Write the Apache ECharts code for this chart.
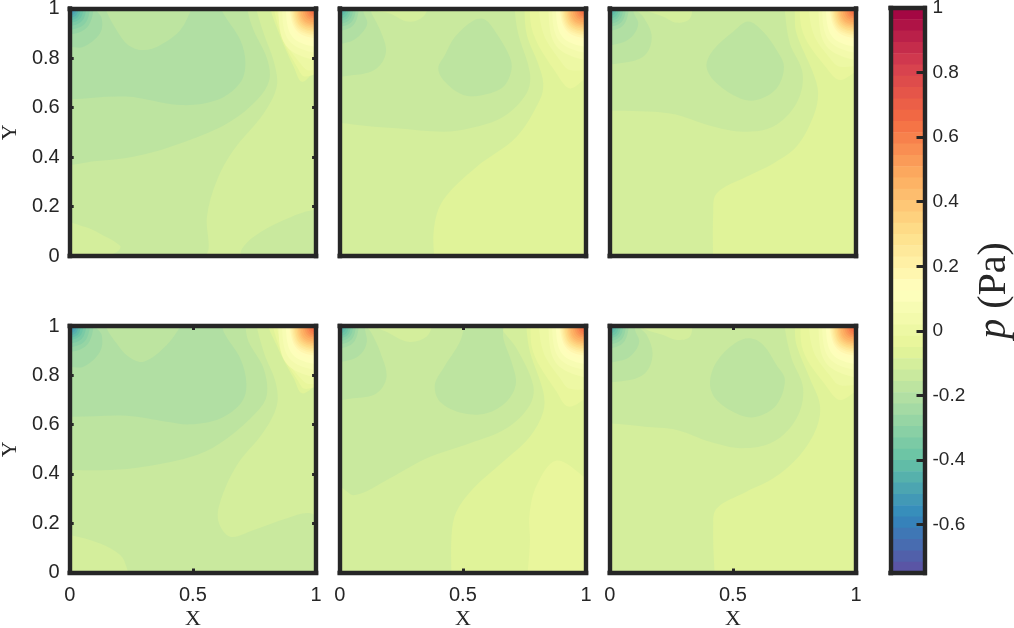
<!DOCTYPE html>
<html>
<head>
<meta charset="utf-8">
<style>
  html, body { margin: 0; padding: 0; background: #fff; }
  #chart { width: 1014px; height: 628px; }
</style>
<script src="https://cdn.jsdelivr.net/npm/echarts@6/dist/echarts.min.js"></script>
</head>
<body>
<div id="chart"></div>
<script>
// tick labels
var xTicks = [0, 0.5, 1];
var yTicks = [0, 0.2, 0.4, 0.6, 0.8, 1];
var colorbarTicks = [-0.6, -0.4, -0.2, 0, 0.2, 0.4, 0.6, 0.8, 1];

// centre value of every colorbar band
var colorbarLevels = [0.9825, 0.9475, 0.9125, 0.8775, 0.8425, 0.8075, 0.7725, 0.7375, 0.7025, 0.6675,
  0.6325, 0.5975, 0.5625, 0.5275, 0.4925, 0.4575, 0.4225, 0.3875, 0.3525, 0.3175,
  0.2825, 0.2475, 0.2125, 0.1775, 0.1425, 0.1075, 0.0725, 0.0375, 0.0025, -0.0325,
  -0.0675, -0.1025, -0.1375, -0.1725, -0.2075, -0.2425, -0.2775, -0.3125, -0.3475, -0.3825,
  -0.4175, -0.4525, -0.4875, -0.5225, -0.5575, -0.5925, -0.6275, -0.6625, -0.6975, -0.7325];

// rings round the top corners: level, X on the top edge, mid point X, mid point Y, Y on the side edge
var hotCore = [
  [0.0375, .845, .878, .85, .785],
  [0.0725, .86, .89, .87, .815],
  [0.1075, .875, .904, .885, .84],
  [0.1425, .885, .917, .899, .86],
  [0.1775, .89, .921, .91, .875],
  [0.2125, .895, .924, .917, .885],
  [0.2475, .90, .928, .922, .892],
  [0.2825, .905, .932, .928, .90],
  [0.3175, .91, .935, .932, .906],
  [0.3525, .916, .94, .937, .913],
  [0.3875, .922, .944, .942, .92],
  [0.4225, .928, .948, .947, .927],
  [0.4575, .934, .952, .952, .934],
  [0.4925, .942, .958, .958, .942],
  [0.5275, .95, .964, .964, .95],
  [0.5625, .958, .97, .97, .958],
  [0.5975, .966, .976, .975, .965],
  [0.6325, .974, .981, .981, .973],
  [0.6675, .984, .988, .987, .982]
];
var coldWide = [
  [-0.2775, .10, .07, .923, .89],
  [-0.3125, .085, .06, .937, .91],
  [-0.3475, .07, .049, .948, .925],
  [-0.3825, .058, .041, .958, .94],
  [-0.4175, .047, .033, .965, .95],
  [-0.4525, .037, .026, .972, .96],
  [-0.4875, .028, .02, .979, .97],
  [-0.5225, .02, .014, .985, .979],
  [-0.5575, .012, .008, .991, .987]
];
var coldNarrow = [
  [-0.2425, .08, .056, .933, .905],
  [-0.2775, .068, .048, .945, .922],
  [-0.3125, .057, .04, .955, .935],
  [-0.3475, .047, .033, .963, .947],
  [-0.3825, .038, .027, .971, .958],
  [-0.4175, .029, .02, .978, .968],
  [-0.4525, .02, .014, .985, .978]
];

// contour regions: [pressure level, outline as [X, Y] pairs], painted in order
var panel1 = [
  [-0.1375, [[-.3,-.3],[1.3,-.3],[1.3,1.3],[-.3,1.3]]],
  [-0.1025, [[.75,1.1],[.75,1.03],[.787,.90],[.83,.78],[.84,.684],[.787,.576],[.665,.428],[.598,.307],[.557,.159],[.564,.031],[.546,-.02],[.546,-.2],[1.2,-.2],[1.2,1.2],[.75,1.2]]],
  [-0.1375, [[.70,.03],[.747,.078],[.869,.145],[.99,.186],[1.05,.17],[1.05,-.05],[.72,-.05],[.695,-.0]]],
  [-0.1025, [[-.05,.135],[.06,.118],[.123,.09],[.205,.04],[.19,.015],[.1,-.01],[-.05,-.05]]],
  [-0.1725, [[-.05,.39],[.11,.384],[.30,.41],[.517,.48],[.652,.543],[.76,.63],[.81,.711],[.80,.80],[.746,.913],[.72,1.0],[.72,1.05],[-.05,1.05]]],
  [-0.2075, [[-.05,1.05],[-.05,.63],[0,.633],[.23,.644],[.449,.61],[.598,.63],[.692,.70],[.713,.78],[.692,.873],[.618,.99],[.60,1.05],[.53,1.05],[.449,.913],[.367,.852],[.30,.832],[.238,.852],[.19,.913],[.15,.987],[.13,1.05]]],
  [-0.2425, [[-.05,.845],[0,.845],[.056,.845],[.123,.90],[.13,.96],[.103,1.0],[.09,1.05],[-.05,1.05]]],
  [-0.0675, [[.808,1.2],[.808,1.03],[.855,.886],[.909,.765],[.943,.704],[1.0,.752],[1.05,.78],[1.2,.8],[1.2,1.2]]],
  [-0.0325, [[.82,1.2],[.82,1.05],[.862,.88],[.925,.76],[.955,.725],[1.05,.755],[1.2,.775],[1.2,1.2]]],
  [0.0025, [[.835,1.2],[.835,1.05],[.87,.875],[.935,.78],[.97,.75],[1.05,.77],[1.2,.79],[1.2,1.2]]]
];
var panel2 = [
  [-0.1025, [[-.3,-.3],[1.3,-.3],[1.3,1.3],[-.3,1.3]]],
  [-0.0675, [[.75,1.2],[.75,1.05],[.758,.90],[.805,.778],[.826,.698],[.812,.63],[.718,.482],[.555,.36],[.42,.226],[.382,.105],[.386,-.05],[.386,-.2],[1.2,-.2],[1.2,1.2]]],
  [-0.1375, [[-.05,.535],[0,.537],[.109,.525],[.231,.516],[.42,.502],[.528,.516],[.664,.563],[.758,.657],[.772,.738],[.724,.90],[.711,.987],[.71,1.05],[.393,1.05],[.339,.967],[.278,.947],[.204,.98],[.14,.995],[.10,1.05],[-.05,1.05]]],
  [-0.1725, [[.589,.956],[.636,.90],[.69,.805],[.697,.752],[.664,.684],[.582,.651],[.501,.651],[.427,.704],[.40,.758],[.427,.812],[.468,.886],[.542,.951]]],
  [-0.1725, [[-.05,.74],[.055,.731],[.15,.758],[.188,.826],[.164,.913],[.13,.98],[.11,1.03],[-.05,1.05]]],
  [-0.2075, [[-.05,.866],[.042,.866],[.089,.90],[.112,.94],[.096,.987],[.09,1.03],[-.05,1.05]]],
  [-0.0325, [[.77,1.2],[.77,1.05],[.785,.90],[.88,.737],[.934,.677],[1.0,.72],[1.05,.75],[1.2,.77],[1.2,1.2]]],
  [0.0025, [[.805,1.2],[.805,1.05],[.826,.90],[.893,.792],[.934,.752],[1.05,.76],[1.2,.78],[1.2,1.2]]]
];
var panel3 = [
  [-0.1025, [[-.3,-.3],[1.3,-.3],[1.3,1.3],[-.3,1.3]]],
  [-0.0675, [[.42,-.2],[.42,-.05],[.42,.172],[.434,.253],[.555,.32],[.664,.374],[.758,.442],[.826,.563],[.846,.657],[.826,.738],[.758,.90],[.751,.987],[.75,1.05],[.75,1.2],[1.2,1.2],[1.2,-.2]]],
  [-0.1375, [[-.05,.585],[0,.587],[.245,.576],[.42,.523],[.542,.502],[.664,.523],[.758,.617],[.783,.738],[.731,.86],[.711,.987],[.71,1.05],[.353,1.05],[.326,.96],[.272,.943],[.218,.967],[.136,1.0],[.1,1.05],[-.05,1.05]]],
  [-0.1725, [[.562,.947],[.623,.906],[.677,.832],[.707,.765],[.677,.677],[.596,.63],[.528,.637],[.434,.698],[.393,.765],[.42,.832],[.501,.906]]],
  [-0.1725, [[-.05,.792],[.082,.785],[.15,.819],[.17,.893],[.136,.967],[.103,1.0],[.1,1.05],[-.05,1.05]]],
  [-0.2075, [[-.05,.859],[.049,.862],[.096,.893],[.116,.94],[.096,.987],[.09,1.05],[-.05,1.05]]],
  [-0.0325, [[.77,1.2],[.77,1.05],[.785,.90],[.88,.76],[.934,.711],[1,.745],[1.05,.77],[1.2,.79],[1.2,1.2]]],
  [0.0025, [[.805,1.2],[.805,1.05],[.826,.90],[.893,.80],[.934,.765],[1.05,.775],[1.2,.79],[1.2,1.2]]]
];
var panel4 = [
  [-0.1375, [[-.3,-.3],[1.3,-.3],[1.3,1.3],[-.3,1.3]]],
  [-0.1025, [[.75,1.2],[.75,1.05],[.787,.896],[.835,.774],[.841,.68],[.787,.571],[.679,.436],[.611,.287],[.604,.206],[.652,.145],[.747,.172],[.882,.22],[.977,.24],[1.05,.19],[1.2,.19],[1.2,1.2]]],
  [-0.1025, [[-.05,.155],[0,.152],[.123,.118],[.205,.071],[.232,.017],[.24,-.05],[-.05,-.05]]],
  [-0.1725, [[-.05,.42],[0,.416],[.164,.416],[.30,.429],[.516,.477],[.638,.544],[.76,.652],[.80,.72],[.787,.828],[.726,.936],[.713,1.0],[.71,1.05],[-.05,1.05]]],
  [-0.2075, [[-.05,1.05],[-.05,.64],[0,.632],[.232,.636],[.394,.612],[.489,.601],[.611,.625],[.699,.693],[.717,.767],[.692,.869],[.625,.977],[.61,1.05],[.50,1.05],[.394,.923],[.30,.855],[.238,.876],[.19,.93],[.15,.99],[.13,1.05]]],
  [-0.2425, [[-.05,.835],[0,.835],[.056,.835],[.123,.896],[.13,.963],[.103,1.0],[.09,1.05],[-.05,1.05]]],
  [-0.0675, [[.79,1.2],[.79,1.05],[.85,.90],[.909,.788],[.943,.727],[1,.76],[1.05,.79],[1.2,.81],[1.2,1.2]]],
  [-0.0325, [[.815,1.2],[.815,1.05],[.86,.89],[.925,.78],[.955,.745],[1.05,.77],[1.2,.79],[1.2,1.2]]],
  [0.0025, [[.835,1.2],[.835,1.05],[.87,.88],[.935,.79],[.97,.765],[1.05,.775],[1.2,.79],[1.2,1.2]]]
];
var panel5 = [
  [-0.1025, [[-.3,-.3],[1.3,-.3],[1.3,1.3],[-.3,1.3]]],
  [-0.1375, [[-.05,.35],[0,.348],[.062,.314],[.204,.382],[.353,.463],[.528,.524],[.677,.585],[.772,.68],[.785,.761],[.718,.909],[.657,.99],[.64,1.05],[.407,1.05],[.353,.957],[.278,.936],[.19,.977],[.15,.995],[.10,1.05],[-.05,1.05]]],
  [-0.1725, [[.53,1.05],[.488,.936],[.42,.828],[.386,.761],[.407,.693],[.501,.646],[.596,.646],[.677,.693],[.715,.767],[.697,.855],[.664,.95],[.657,1.05]]],
  [-0.1725, [[-.05,.71],[.055,.707],[.15,.727],[.19,.794],[.164,.896],[.13,.97],[.11,1],[.1,1.05],[-.05,1.05]]],
  [-0.2075, [[-.05,.862],[.042,.862],[.089,.889],[.11,.936],[.103,.984],[.095,1.05],[-.05,1.05]]],
  [-0.0675, [[.454,-.2],[.454,-.05],[.454,.152],[.474,.247],[.542,.341],[.664,.45],[.772,.551],[.826,.652],[.826,.734],[.772,.896],[.758,.99],[.755,1.05],[.755,1.2],[1.2,1.2],[1.2,-.2]]],
  [-0.0325, [[.758,-.2],[.76,-.05],[.772,.125],[.77,.233],[.80,.355],[.88,.454],[1,.382],[1.05,.34],[1.2,.3],[1.2,-.2]]],
  [-0.0325, [[.775,1.2],[.775,1.05],[.785,.896],[.88,.734],[.927,.673],[1,.707],[1.05,.74],[1.2,.76],[1.2,1.2]]],
  [0.0025, [[.805,1.2],[.805,1.05],[.826,.896],[.893,.79],[.934,.745],[1.05,.75],[1.2,.77],[1.2,1.2]]]
];
var panel6 = [
  [-0.1025, [[-.3,-.3],[1.3,-.3],[1.3,1.3],[-.3,1.3]]],
  [-0.0675, [[.427,-.2],[.427,-.05],[.42,.179],[.434,.26],[.555,.328],[.664,.382],[.772,.476],[.839,.585],[.853,.68],[.812,.788],[.758,.923],[.751,1.0],[.75,1.05],[.75,1.2],[1.2,1.2],[1.2,-.2]]],
  [-0.1375, [[-.05,.605],[0,.605],[.136,.592],[.272,.578],[.407,.53],[.535,.504],[.664,.53],[.758,.625],[.785,.747],[.738,.869],[.711,.99],[.71,1.05],[.353,1.05],[.326,.957],[.272,.943],[.218,.963],[.136,.993],[.1,1.05],[-.05,1.05]]],
  [-0.1725, [[.569,.95],[.623,.923],[.677,.842],[.711,.781],[.677,.68],[.596,.632],[.528,.639],[.434,.70],[.407,.767],[.434,.855],[.508,.93]]],
  [-0.1725, [[-.05,.79],[.082,.781],[.15,.815],[.174,.889],[.15,.964],[.116,1],[.1,1.05],[-.05,1.05]]],
  [-0.2075, [[-.05,.862],[.055,.862],[.096,.889],[.12,.936],[.103,.984],[.095,1.05],[-.05,1.05]]],
  [-0.0325, [[.775,1.2],[.775,1.05],[.785,.90],[.88,.755],[.934,.70],[1,.735],[1.05,.76],[1.2,.78],[1.2,1.2]]],
  [0.0025, [[.805,1.2],[.805,1.05],[.826,.90],[.893,.80],[.934,.76],[1.05,.77],[1.2,.79],[1.2,1.2]]]
];

var spectral = ['#9e0142', '#d53e4f', '#f46d43', '#fdae61', '#fee08b', '#ffffbf', '#e6f598', '#abdda4', '#66c2a5', '#3288bd', '#5e4fa2'];
var frameColor = '#262626';
var labelFont = 'Liberation Sans';
var nameFont = 'Liberation Serif';

function levelColor(v) {
  return echarts.color.lerp((1 - v) / 1.75, spectral);
}

// close a ring outside the frame so the clip cuts it at the edges
function hotRing(r) {
  return [r[0], [[r[1],1.2],[r[1],1.03],[r[2],r[3]],[1.03,r[4]],[1.2,r[4]],[1.2,1.2]]];
}
function coldRing(r) {
  return [r[0], [[-.2,r[4]],[-.03,r[4]],[r[2],r[3]],[r[1],1.03],[r[1],1.2],[-.2,1.2]]];
}
var hotRings = hotCore.map(hotRing);
var coldWideRings = coldWide.map(coldRing);
var coldNarrowRings = coldNarrow.map(coldRing);

// one entry per small plot
var panels = [
  { left: 69.7, top: 8.5, height: 247.5, contours: panel1.concat(coldWideRings, hotRings), yLabels: true, yMarks: true, xLabels: false },
  { left: 339.7, top: 8.5, height: 247.5, contours: panel2.concat(coldNarrowRings, hotRings), yLabels: false, yMarks: false, xLabels: false },
  { left: 609.7, top: 8.5, height: 247.5, contours: panel3.concat(coldNarrowRings, hotRings), yLabels: false, yMarks: false, xLabels: false },
  { left: 69.7, top: 326, height: 246.5, contours: panel4.concat(coldWideRings, hotRings), yLabels: true, yMarks: true, xLabels: true },
  { left: 339.7, top: 326, height: 246.5, contours: panel5.concat(coldNarrowRings, hotRings), yLabels: false, yMarks: false, xLabels: true },
  { left: 609.7, top: 326, height: 246.5, contours: panel6.concat(coldNarrowRings, hotRings), yLabels: false, yMarks: false, xLabels: true }
];

var lineStyle = { color: frameColor, width: 4.4, cap: 'square' };
var tickStyle = { show: true, inside: true, length: 4, lineStyle: { color: frameColor, width: 3 } };

function xAxisFor(gridIndex, position, marks, labels) {
  return {
    type: 'value', gridIndex: gridIndex, position: position, min: 0, max: 1, z: 5,
    interval: 0.5,
    splitLine: { show: false },
    axisLine: { show: true, onZero: false, lineStyle: lineStyle },
    axisTick: marks ? tickStyle : { show: false },
    axisLabel: { show: labels, color: frameColor, fontFamily: labelFont, fontSize: 20, margin: 13, customValues: xTicks },
    name: labels ? 'X' : '', nameLocation: 'middle', nameGap: 36,
    nameTextStyle: { color: frameColor, fontFamily: nameFont, fontSize: 22 }
  };
}

function yAxisFor(gridIndex, position, marks, labels) {
  return {
    type: 'value', gridIndex: gridIndex, position: position, min: 0, max: 1, z: 5,
    interval: 0.2,
    splitLine: { show: false },
    axisLine: { show: true, onZero: false, lineStyle: lineStyle },
    axisTick: marks ? tickStyle : { show: false },
    axisLabel: { show: labels, color: frameColor, fontFamily: labelFont, fontSize: 20, margin: 10, customValues: yTicks },
    name: labels ? 'Y' : '', nameLocation: 'middle', nameGap: 48, nameRotate: 90,
    nameTextStyle: { color: frameColor, fontFamily: nameFont, fontSize: 22 }
  };
}

var grids = [], xAxes = [], yAxes = [], series = [];

panels.forEach(function (p, i) {
  grids.push({ left: p.left, top: p.top, width: 246.4, height: p.height, outerBoundsMode: 'none' });
  xAxes.push(xAxisFor(i, 'bottom', p.xLabels, p.xLabels), xAxisFor(i, 'top', p.xLabels, false));
  yAxes.push(yAxisFor(i, 'left', p.yMarks, p.yLabels), yAxisFor(i, 'right', p.yMarks, false));
  series.push({
    type: 'custom',
    xAxisIndex: i * 2,
    yAxisIndex: i * 2,
    clip: true,
    silent: true,
    animation: false,
    data: p.contours.map(function (c, j) { return [j, c[0]]; }),
    renderItem: function (params, api) {
      var c = p.contours[params.dataIndex];
      return {
        type: 'polygon',
        shape: { points: c[1].map(function (pt) { return api.coord(pt); }), smooth: 0.35 },
        style: { fill: levelColor(c[0]) }
      };
    }
  });
});

// colorbar
var cb = panels.length;
grids.push({ left: 890.5, top: 8, width: 34, height: 565, outerBoundsMode: 'none' });
xAxes.push(
  { type: 'value', gridIndex: cb, position: 'bottom', min: 0, max: 1, z: 5, splitLine: { show: false }, axisTick: { show: false }, axisLabel: { show: false }, axisLine: { show: true, onZero: false, lineStyle: lineStyle } },
  { type: 'value', gridIndex: cb, position: 'top', min: 0, max: 1, z: 5, splitLine: { show: false }, axisTick: { show: false }, axisLabel: { show: false }, axisLine: { show: true, onZero: false, lineStyle: lineStyle } }
);
yAxes.push(
  { type: 'value', gridIndex: cb, position: 'left', min: -0.75, max: 1, z: 5, splitLine: { show: false }, axisTick: { show: false }, axisLabel: { show: false }, axisLine: { show: true, onZero: false, lineStyle: lineStyle } },
  {
    type: 'value', gridIndex: cb, position: 'right', min: -0.75, max: 1, z: 5,
    splitLine: { show: false },
    axisLine: { show: true, onZero: false, lineStyle: lineStyle },
    axisTick: { show: true, inside: true, length: 8, customValues: colorbarTicks, lineStyle: { color: frameColor, width: 3 } },
    axisLabel: { color: frameColor, fontFamily: labelFont, fontSize: 19, margin: 8, customValues: colorbarTicks },
    name: '{i|p} (Pa)', nameLocation: 'middle', nameGap: 50, nameRotate: 90,
    nameTextStyle: {
      color: frameColor, fontFamily: nameFont, fontSize: 40,
      rich: { i: { fontFamily: nameFont, fontStyle: 'italic', fontSize: 40, color: frameColor } }
    }
  }
);
series.push({
  type: 'custom',
  xAxisIndex: cb * 2,
  yAxisIndex: cb * 2,
  clip: true,
  silent: true,
  animation: false,
  data: colorbarLevels.map(function (v) { return [0.5, v]; }),
  renderItem: function (params, api) {
    var v = api.value(1);
    var a = api.coord([0, v + 0.0175]);
    var b = api.coord([1, v - 0.0175]);
    return {
      type: 'rect',
      shape: { x: a[0], y: a[1], width: b[0] - a[0], height: b[1] - a[1] + 0.5 },
      style: { fill: levelColor(v) }
    };
  }
});

var chart = echarts.init(document.getElementById('chart'));
chart.setOption({
  backgroundColor: '#fff',
  animation: false,
  grid: grids,
  xAxis: xAxes,
  yAxis: yAxes,
  series: series
});
</script>
</body>
</html>
